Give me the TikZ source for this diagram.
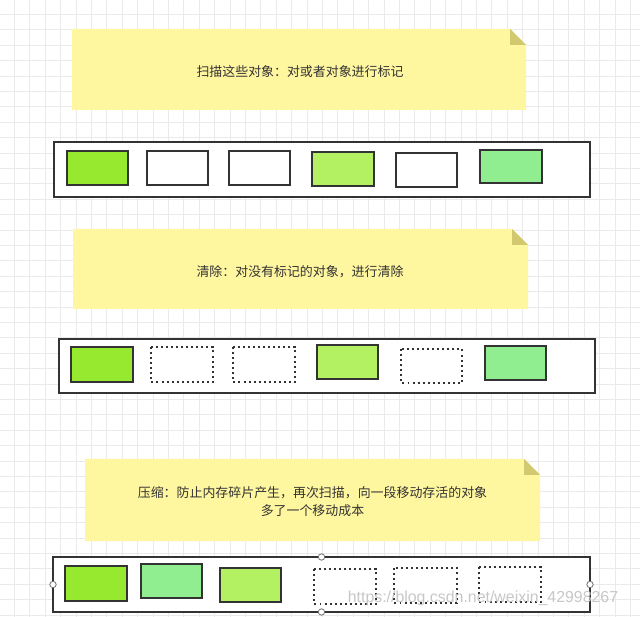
\documentclass[tikz,border=0pt]{standalone}
\usepackage{fontspec}
\setmainfont{Liberation Sans}
\newfontfamily\cjk{Noto Sans CJK SC}
\usepackage{tikz}
\usetikzlibrary{positioning}
\usepackage{xcolor}
\definecolor{NoteYellow}{HTML}{FFF6A0}
\definecolor{NoteFold}{HTML}{D1C86F}
\definecolor{Edge}{HTML}{333333}
\definecolor{Ink}{HTML}{333333}
\definecolor{Live}{HTML}{97E92F}
\definecolor{Lime}{HTML}{B3F062}
\definecolor{Mint}{HTML}{90EE90}
\definecolor{GridLine}{HTML}{EAEAEA}

\begin{document}
\begin{tikzpicture}[
    x=0.025cm, y=-0.025cm,
    heap/.style={draw=Edge, line width=1.4pt, fill=white},
    obj/.style={draw=Edge, line width=1.4pt},
    freed/.style={draw=Edge, line width=1.4pt, dash pattern=on 1.4pt off 2.2pt},
    notetext/.style={font=\cjk\fontsize{9.2}{12.8}\selectfont, text=Ink, align=center},
    handle/.style={draw=black!55, fill=white, line width=0.6pt}
]

% === Canvas with grid ===
\fill[white] (0,0) rectangle (640,617);
\useasboundingbox (0,0) rectangle (640,617);
\foreach \k in {0,...,41} {
    \draw[GridLine, line width=0.5pt] ({14.3+15.4*\k},0) -- ({14.3+15.4*\k},617);
    \draw[GridLine, line width=0.5pt] (0,{14.3+15.4*\k}) -- (640,{14.3+15.4*\k});
}

% === STEP 1: Mark ===
\fill[NoteYellow] (72,29) -- (510,29) -- (526,45) -- (526,110) -- (72,110) -- cycle;
\fill[NoteFold] (510,29) -- (510,45) -- (526,45) -- cycle;
\node[notetext] (markText) at (300,71.5) {扫描这些对象：对或者对象进行标记};

% Heap before sweep
\draw[heap] (54,142) rectangle (590,197);
\draw[obj, fill=Live] (67,151) rectangle (128,185);
\draw[obj, fill=white] (147,151) rectangle (208,185);
\draw[obj, fill=white] (229,151) rectangle (290,185);
\draw[obj, fill=Lime] (312,152) rectangle (374,186);
\draw[obj, fill=white] (396,153) rectangle (457,187);
\draw[obj, fill=Mint] (480,150) rectangle (542,183);

% === STEP 2: Sweep ===
\fill[NoteYellow] (73,229) -- (512,229) -- (528,245) -- (528,309) -- (73,309) -- cycle;
\fill[NoteFold] (512,229) -- (512,245) -- (528,245) -- cycle;
\node[notetext] (sweepText) at (300,271.5) {清除：对没有标记的对象，进行清除};

% Heap after sweep (freed slots dotted)
\draw[heap] (59,339) rectangle (595,393);
\draw[obj, fill=Live] (71,347) rectangle (133,382);
\draw[freed] (151,347) rectangle (213,382);
\draw[freed] (233,347) rectangle (295,382);
\draw[obj, fill=Lime] (317,345) rectangle (378,379);
\draw[freed] (401,349) rectangle (462,383);
\draw[obj, fill=Mint] (485,346) rectangle (546,380);

% === STEP 3: Compact ===
\fill[NoteYellow] (85,459) -- (524,459) -- (540,475) -- (540,541) -- (85,541) -- cycle;
\fill[NoteFold] (524,459) -- (524,475) -- (540,475) -- cycle;
\node[notetext] (compactText) at (312.5,502)
    {压缩：防止内存碎片产生，再次扫描，向一段移动存活的对象\\多了一个移动成本};

% Heap after compaction
\draw[heap] (53,557) rectangle (590,612);
\draw[obj, fill=Live] (65,566) rectangle (127,601);
\draw[obj, fill=Mint] (141,564) rectangle (202,598);
\draw[obj, fill=Lime] (220,568) rectangle (281,602);
\draw[freed] (314,569) rectangle (376,604);
\draw[freed] (394,568) rectangle (457,603);
\draw[freed] (479,567) rectangle (541,602);

% Selection handles
\draw[handle] (53,584.5) circle (3.2);
\draw[handle] (590,584.5) circle (3.2);
\draw[handle] (321.5,557) circle (3.2);
\draw[handle] (321.5,612) circle (3.2);

% Watermark
\node[font=\fontsize{11.3}{13}\selectfont, text=black!22] (watermark) at (483,598)
    {https://blog.csdn.net/weixin\_42998267};

\end{tikzpicture}
\end{document}
